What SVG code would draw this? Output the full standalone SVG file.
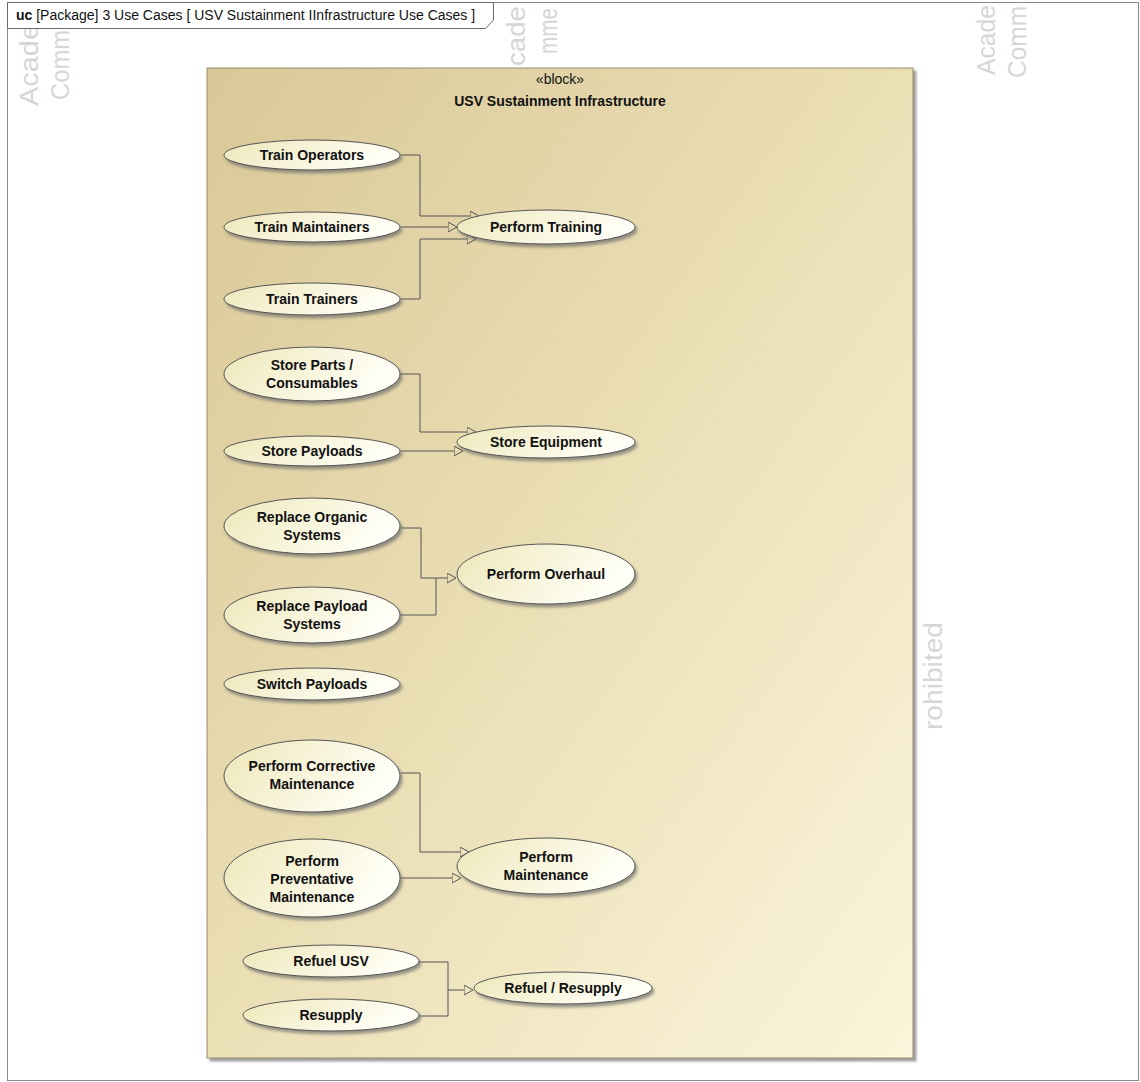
<svg xmlns="http://www.w3.org/2000/svg" width="1140" height="1082" viewBox="0 0 1140 1082">
  <style>
    .frame { fill: none; stroke: #8a8a8a; stroke-width: 1; }
    .tab { fill: #ffffff; stroke: #6a6a6a; stroke-width: 1; }
    .hdr { font-family: "Liberation Sans", Arial, sans-serif; font-size: 14px; fill: #111; }
    .wm { font-family: "Liberation Sans", Arial, sans-serif; font-size: 25px; fill: #d6d6d6; }
    .block { fill: url(#blockFill); stroke: #9c8c6c; stroke-width: 1; filter: url(#blockShadow); }
    .stereo { font-family: "Liberation Sans", Arial, sans-serif; font-size: 14px; fill: #111; text-anchor: middle; }
    .title { font-family: "Liberation Sans", Arial, sans-serif; font-size: 14px; font-weight: bold; fill: #111; text-anchor: middle; }
    .uc ellipse { fill: url(#ucFill); stroke: #555; stroke-width: 1; filter: url(#ucShadow); }
    .uc text { font-family: "Liberation Sans", Arial, sans-serif; font-size: 14px; font-weight: bold; fill: #111; text-anchor: middle; }
    .conn path { fill: none; stroke: #555; stroke-width: 1; }
  </style>
  <defs>
    <linearGradient id="blockFill" x1="0" y1="0" x2="1" y2="1">
      <stop offset="0" stop-color="#d9c897"/>
      <stop offset="0.5" stop-color="#ebdfb6"/>
      <stop offset="1" stop-color="#faf5da"/>
    </linearGradient>
    <linearGradient id="ucFill" x1="0" y1="0" x2="1" y2="0.3">
      <stop offset="0" stop-color="#eee7b9"/>
      <stop offset="1" stop-color="#fffff7"/>
    </linearGradient>
    <filter id="blockShadow" x="-5%" y="-5%" width="110%" height="110%">
      <feDropShadow dx="3" dy="3" stdDeviation="1" flood-color="#888" flood-opacity="0.8"/>
    </filter>
    <filter id="ucShadow" x="-10%" y="-20%" width="120%" height="150%">
      <feDropShadow dx="2" dy="3" stdDeviation="1.5" flood-color="#666" flood-opacity="0.65"/>
    </filter>
    <!-- hollow generalization triangle; base sits on the path end -->
    <marker id="gen" markerWidth="11" markerHeight="12" refX="0" refY="5" orient="auto" markerUnits="userSpaceOnUse">
      <path d="M0,0 L9,5 L0,10 Z" fill="none" stroke="#555" stroke-width="1"/>
    </marker>
  </defs>

  <rect x="0" y="0" width="1140" height="1082" fill="#ffffff"/>

  <!-- watermark fragments -->
  <g id="watermark">
    <text class="wm" transform="translate(38,106) rotate(-90)" textLength="82" lengthAdjust="spacingAndGlyphs">Acade</text>
    <text class="wm" transform="translate(69,100) rotate(-90)" textLength="70" lengthAdjust="spacingAndGlyphs">Comm</text>
    <text class="wm" transform="translate(525,66) rotate(-90)" textLength="60" lengthAdjust="spacingAndGlyphs">cade</text>
    <text class="wm" transform="translate(557,54) rotate(-90)" textLength="46" lengthAdjust="spacingAndGlyphs">mme</text>
    <text class="wm" transform="translate(995,75) rotate(-90)" textLength="70" lengthAdjust="spacingAndGlyphs">Acade</text>
    <text class="wm" transform="translate(1026,78) rotate(-90)" textLength="72" lengthAdjust="spacingAndGlyphs">Comm</text>
    <text class="wm" transform="translate(942,730) rotate(-90)" textLength="108" lengthAdjust="spacingAndGlyphs">rohibited</text>
  </g>

  <!-- diagram frame and header tab -->
  <rect class="frame" x="7.5" y="2.5" width="1131" height="1078"/>
  <path class="tab" d="M7.5,2.5 H493.5 V20 L485.5,28.5 H7.5 Z"/>
  <text class="hdr" x="16" y="20"><tspan font-weight="bold">uc</tspan> [Package] 3 Use Cases [ USV Sustainment IInfrastructure Use Cases ]</text>

  <!-- owning block -->
  <g id="block-usv">
    <rect class="block" x="207" y="68" width="706" height="990"/>
    <text class="stereo" x="560" y="84">«block»</text>
    <text class="title" x="560" y="106">USV Sustainment Infrastructure</text>
  </g>

  <!-- generalization connectors -->
  <g id="connectors" class="conn">
    <path d="M401,155 H420 V216 H470" marker-end="url(#gen)"/>
    <path d="M401,227 H448" marker-end="url(#gen)"/>
    <path d="M401,299 H420 V239 H467" marker-end="url(#gen)"/>
    <path d="M401,374 H420 V432 H467" marker-end="url(#gen)"/>
    <path d="M401,451 H454" marker-end="url(#gen)"/>
    <path d="M401,528 H421 V578 H447" marker-end="url(#gen)"/>
    <path d="M401,615 H436 V578"/>
    <path d="M401,773 H420 V852 H460" marker-end="url(#gen)"/>
    <path d="M401,878 H452" marker-end="url(#gen)"/>
    <path d="M419,962 H448 V990 H464" marker-end="url(#gen)"/>
    <path d="M419,1016 H448 V990"/>
  </g>

  <!-- use cases -->
  <g id="uc-train-operators" class="uc">
    <ellipse cx="312" cy="155" rx="88" ry="15"/>
    <text x="312" y="160">Train Operators</text>
  </g>
  <g id="uc-train-maintainers" class="uc">
    <ellipse cx="312" cy="227" rx="88" ry="15"/>
    <text x="312" y="232">Train Maintainers</text>
  </g>
  <g id="uc-train-trainers" class="uc">
    <ellipse cx="312" cy="299" rx="88" ry="16"/>
    <text x="312" y="304">Train Trainers</text>
  </g>
  <g id="uc-perform-training" class="uc">
    <ellipse cx="546" cy="227" rx="89" ry="17"/>
    <text x="546" y="232">Perform Training</text>
  </g>

  <g id="uc-store-parts" class="uc">
    <ellipse cx="312" cy="374" rx="88" ry="27"/>
    <text x="312" y="370">Store Parts /</text>
    <text x="312" y="388">Consumables</text>
  </g>
  <g id="uc-store-payloads" class="uc">
    <ellipse cx="312" cy="451" rx="88" ry="15"/>
    <text x="312" y="456">Store Payloads</text>
  </g>
  <g id="uc-store-equipment" class="uc">
    <ellipse cx="546" cy="442" rx="89" ry="16"/>
    <text x="546" y="447">Store Equipment</text>
  </g>

  <g id="uc-replace-organic" class="uc">
    <ellipse cx="312" cy="526" rx="88" ry="28"/>
    <text x="312" y="522">Replace Organic</text>
    <text x="312" y="540">Systems</text>
  </g>
  <g id="uc-replace-payload" class="uc">
    <ellipse cx="312" cy="615" rx="88" ry="28"/>
    <text x="312" y="611">Replace Payload</text>
    <text x="312" y="629">Systems</text>
  </g>
  <g id="uc-perform-overhaul" class="uc">
    <ellipse cx="546" cy="574" rx="89" ry="30"/>
    <text x="546" y="579">Perform Overhaul</text>
  </g>

  <g id="uc-switch-payloads" class="uc">
    <ellipse cx="312" cy="684" rx="88" ry="16"/>
    <text x="312" y="689">Switch Payloads</text>
  </g>

  <g id="uc-corrective" class="uc">
    <ellipse cx="312" cy="776" rx="88" ry="36"/>
    <text x="312" y="771">Perform Corrective</text>
    <text x="312" y="789">Maintenance</text>
  </g>
  <g id="uc-preventative" class="uc">
    <ellipse cx="312" cy="878" rx="88" ry="39"/>
    <text x="312" y="866">Perform</text>
    <text x="312" y="884">Preventative</text>
    <text x="312" y="902">Maintenance</text>
  </g>
  <g id="uc-perform-maintenance" class="uc">
    <ellipse cx="546" cy="866" rx="89" ry="28"/>
    <text x="546" y="862">Perform</text>
    <text x="546" y="880">Maintenance</text>
  </g>

  <g id="uc-refuel-usv" class="uc">
    <ellipse cx="331" cy="961" rx="88" ry="16"/>
    <text x="331" y="966">Refuel USV</text>
  </g>
  <g id="uc-resupply" class="uc">
    <ellipse cx="331" cy="1015" rx="88" ry="16"/>
    <text x="331" y="1020">Resupply</text>
  </g>
  <g id="uc-refuel-resupply" class="uc">
    <ellipse cx="563" cy="988" rx="89" ry="16"/>
    <text x="563" y="993">Refuel / Resupply</text>
  </g>
</svg>
